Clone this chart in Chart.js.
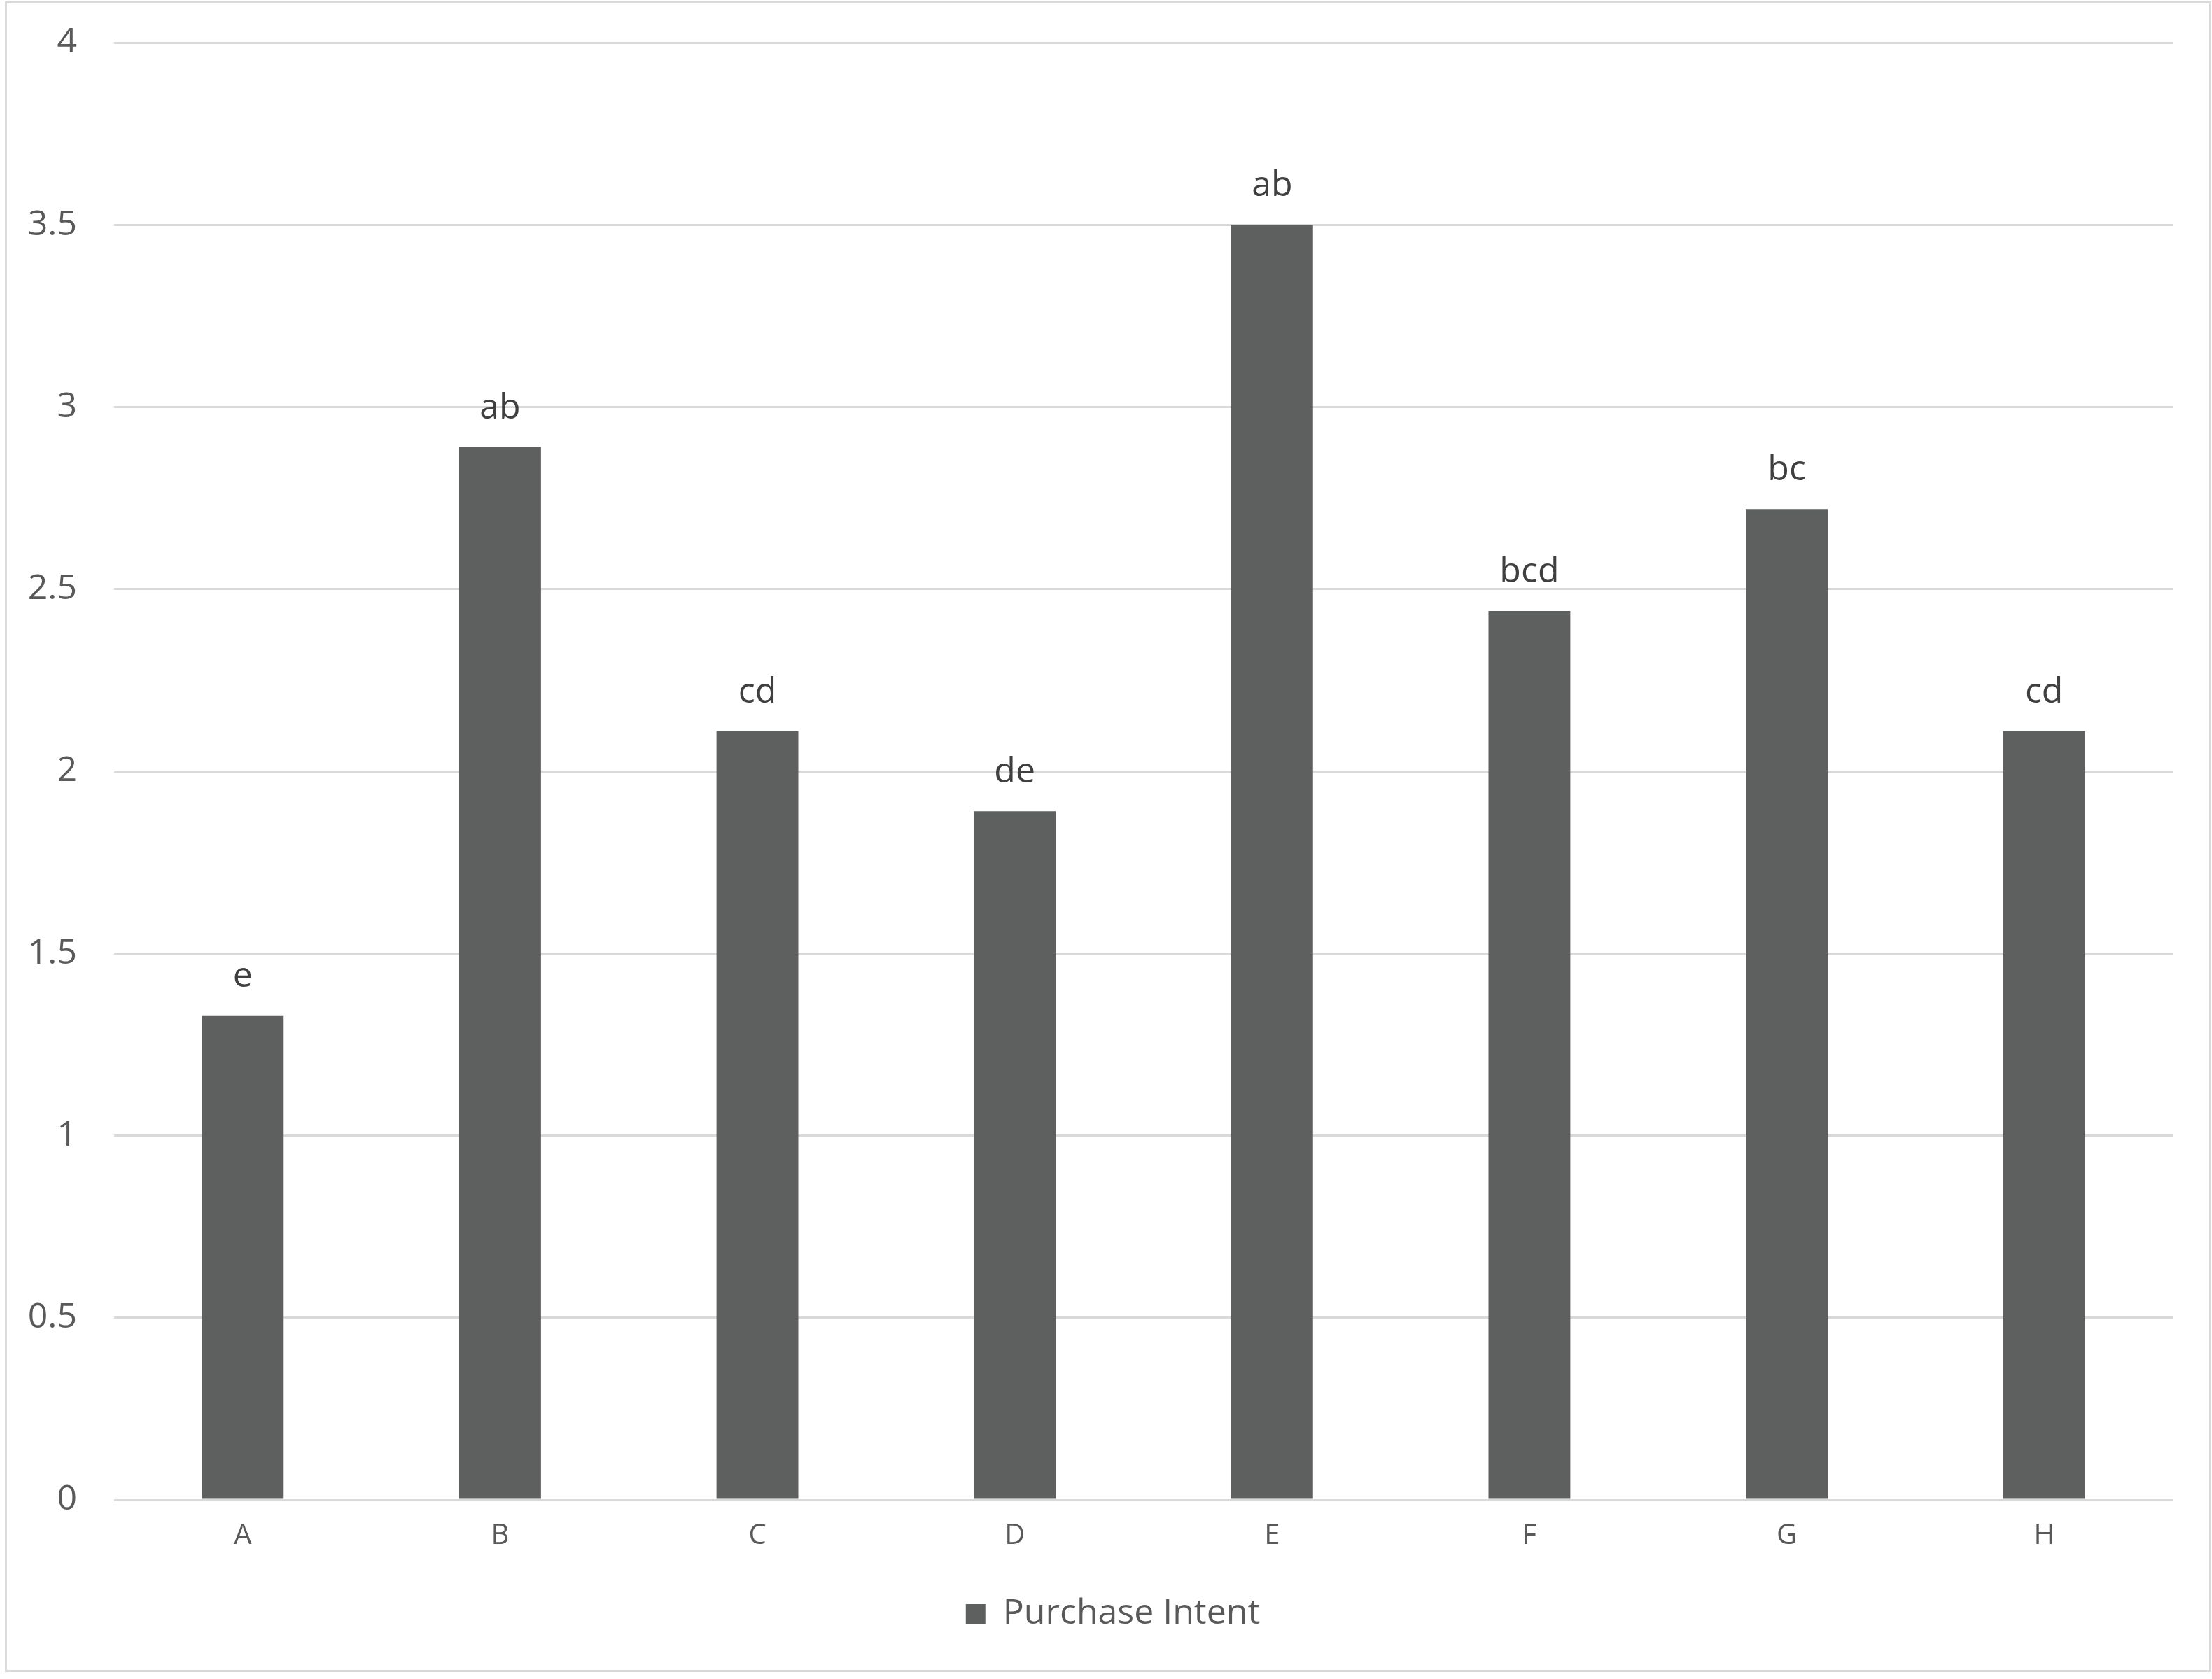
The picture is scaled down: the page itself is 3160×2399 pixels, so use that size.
<!DOCTYPE html>
<html>
<head>
<meta charset="utf-8">
<title>Purchase Intent</title>
<script src="https://cdn.jsdelivr.net/npm/chart.js@4.4.1/dist/chart.umd.min.js"></script>
<style>
    html, body { margin: 0; padding: 0; background: #fff; overflow: hidden; }
    canvas { display: block; }
</style>
</head>
<body>
<canvas id="myChart" width="3160" height="2399"></canvas>
<script>
// Chart data
const categories = ['A', 'B', 'C', 'D', 'E', 'F', 'G', 'H'];
const purchaseIntent = [1.33, 2.89, 2.11, 1.89, 3.50, 2.44, 2.72, 2.11];
const letterGroups = ['e', 'ab', 'cd', 'de', 'ab', 'bcd', 'bc', 'cd'];
const yTicks = [0, 0.5, 1, 1.5, 2, 2.5, 3, 3.5, 4];

(() => {
    'use strict'

    Chart.defaults.font.family = '"Open Sans", "Noto Sans", sans-serif'
    Chart.defaults.color = '#595959'

    // white page with the thin grey frame around it
    const frame = {
        id: 'frame',
        beforeDraw(chart) {
            const c = chart.ctx
            c.save()
            c.fillStyle = '#ffffff'
            c.fillRect(0, 0, chart.width, chart.height)
            c.strokeStyle = '#d9d9d9'
            c.lineWidth = 3
            c.strokeRect(8.5, 3.5, chart.width - 11, chart.height - 15)
            c.restore()
        }
    }

    // legend sits a bit right of the plot centre in the original
    const legendNudge = {
        id: 'legendNudge',
        afterLayout(chart) {
            if(chart.legend) {
                chart.legend.left += 38
                chart.legend.right += 38
            }
        }
    }

    // significance letters over each bar
    const barLetters = {
        id: 'barLetters',
        afterDatasetsDraw(chart) {
            const c = chart.ctx
            const meta = chart.getDatasetMeta(0)
            c.save()
            c.font = '50px "Open Sans", "Noto Sans", sans-serif'
            c.fillStyle = '#404040'
            c.textAlign = 'center'
            c.textBaseline = 'alphabetic'
            meta.data.forEach((bar, i) => {
                c.fillText(letterGroups[i], bar.x, bar.y - 41)
            })
            c.restore()
        }
    }

    const ctx = document.getElementById('myChart')
    if(ctx) {
        const myChart = new Chart(ctx, {
            type: 'bar',
            data: {
                labels: categories,
                datasets: [{
                    label: 'Purchase Intent',
                    data: purchaseIntent,
                    backgroundColor: '#5e605f',
                    borderWidth: 0,
                    barPercentage: 0.318,
                    categoryPercentage: 1
                }]
            },
            options: {
                responsive: false,
                animation: false,
                devicePixelRatio: 1,
                layout: {
                    padding: { left: 0, right: 56, top: 61, bottom: 58 }
                },
                scales: {
                    x: {
                        grid: { display: false, drawTicks: false },
                        border: { display: false },
                        ticks: {
                            font: { size: 40 },
                            color: '#595959',
                            padding: 28
                        },
                        afterFit(scale) {
                            scale.height = 128
                        }
                    },
                    y: {
                        min: yTicks[0],
                        max: yTicks[yTicks.length - 1],
                        afterBuildTicks(scale) {
                            scale.ticks = yTicks.map(v => ({ value: v }))
                        },
                        grid: {
                            color: '#d9d9d9',
                            lineWidth: 3,
                            drawTicks: false
                        },
                        border: { display: false },
                        ticks: {
                            font: { size: 50 },
                            color: '#595959',
                            padding: 53,
                            callback: value => String(value)
                        },
                        afterFit(scale) {
                            scale.width = 163
                            // tick padding shouldn't push the plot down
                            scale.paddingTop = 30
                            scale.paddingBottom = 30
                        }
                    }
                },
                plugins: {
                    legend: {
                        position: 'bottom',
                        labels: {
                            boxWidth: 28,
                            boxHeight: 28,
                            padding: 10,
                            color: '#595959',
                            font: { size: 50 }
                        }
                    },
                    tooltip: { enabled: false }
                }
            },
            plugins: [frame, legendNudge, barLetters]
        })
    }
})()
</script>
</body>
</html>
